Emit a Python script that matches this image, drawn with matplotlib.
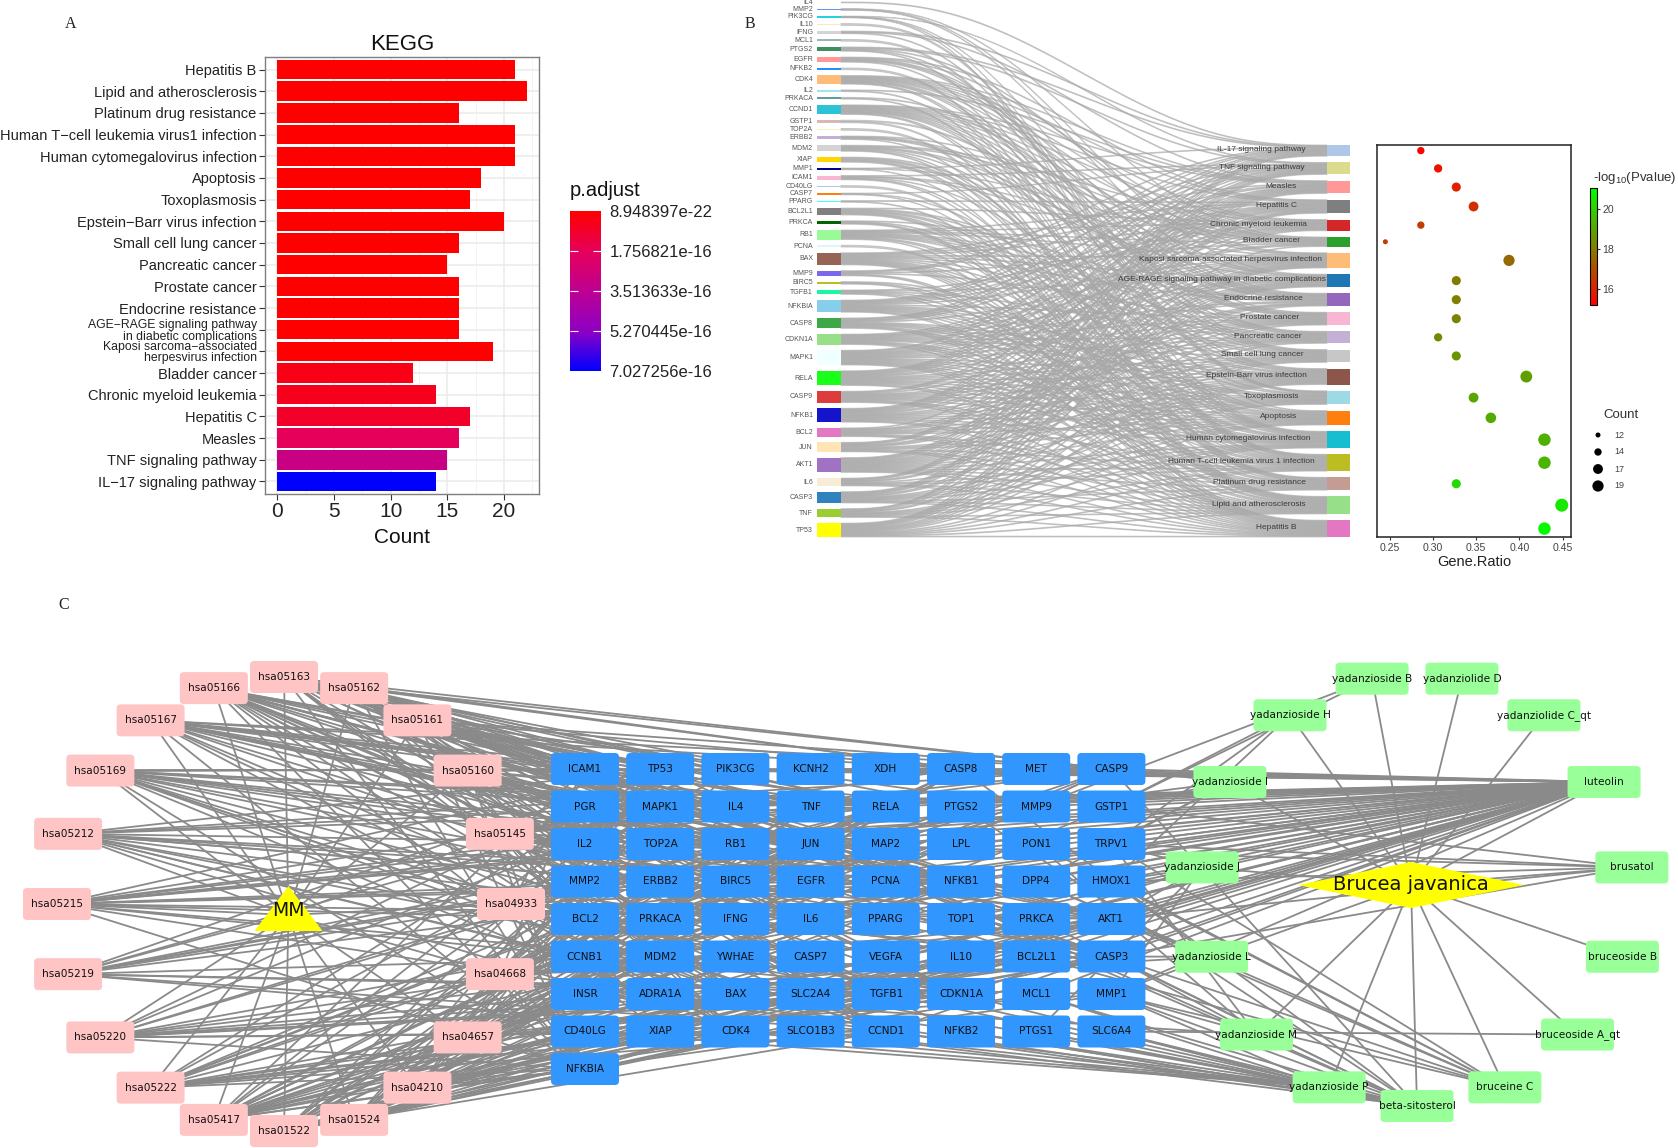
import numpy as np
import matplotlib
matplotlib.use("Agg")
import matplotlib.pyplot as plt
from matplotlib.cm import ScalarMappable
from matplotlib.collections import LineCollection, PolyCollection
from matplotlib.colors import LinearSegmentedColormap, Normalize
from matplotlib.patches import FancyBboxPatch, Polygon, Rectangle

plt.rcParams['font.family'] = ['Liberation Sans', 'DejaVu Sans']
plt.rcParams['mathtext.default'] = 'regular'

# ---- panel A data (top to bottom)
kegg_terms = ['Hepatitis B', 'Lipid and atherosclerosis', 'Platinum drug resistance',
              'Human T\u2212cell leukemia virus1 infection', 'Human cytomegalovirus infection',
              'Apoptosis', 'Toxoplasmosis', 'Epstein\u2212Barr virus infection',
              'Small cell lung cancer', 'Pancreatic cancer', 'Prostate cancer',
              'Endocrine resistance', 'AGE\u2212RAGE signaling pathway\nin diabetic complications',
              'Kaposi sarcoma\u2212associated\nherpesvirus infection', 'Bladder cancer',
              'Chronic myeloid leukemia', 'Hepatitis C', 'Measles',
              'TNF signaling pathway', 'IL\u221217 signaling pathway']
kegg_count = [21, 22, 16, 21, 21, 18, 17, 20, 16, 15, 16, 16, 16, 19, 12, 14, 17, 16, 15, 14]
kegg_padj = [8.9e-22, 2e-21, 5e-21, 8e-21, 1e-20, 3e-20, 6e-20, 1e-19, 3e-19, 6e-19,
             1e-18, 3e-18, 5e-18, 2e-18, 4.5e-17, 5.5e-17, 8.5e-17, 1.75e-16, 3.1e-16, 7.027e-16]
padj_ticks = [8.948397e-22, 1.756821e-16, 3.513633e-16, 5.270445e-16, 7.027256e-16]
padj_labels = ['8.948397e-22', '1.756821e-16', '3.513633e-16', '5.270445e-16', '7.027256e-16']

# ---- panel B data (top to bottom)
sankey_pathways = ['IL-17 signaling pathway', 'TNF signaling pathway', 'Measles', 'Hepatitis C',
                   'Chronic myeloid leukemia', 'Bladder cancer',
                   'Kaposi sarcoma-associated herpesvirus infection',
                   'AGE-RAGE signaling pathway in diabetic complications', 'Endocrine resistance',
                   'Prostate cancer', 'Pancreatic cancer', 'Small cell lung cancer',
                   'Epstein-Barr virus infection', 'Toxoplasmosis', 'Apoptosis',
                   'Human cytomegalovirus infection', 'Human T-cell leukemia virus 1 infection',
                   'Platinum drug resistance', 'Lipid and atherosclerosis', 'Hepatitis B']
sankey_counts = [14, 15, 16, 17, 14, 12, 19, 16, 16, 16, 15, 16, 20, 17, 18, 21, 21, 16, 22, 21]
sankey_colors = ['#AEC7E8', '#DBDB8D', '#FF9896', '#7F7F7F', '#D62728', '#2CA02C', '#FFBB78',
                 '#1F77B4', '#9467BD', '#F7B6D2', '#C5B0D5', '#C7C7C7', '#8C564B', '#9EDAE5',
                 '#FF7F0E', '#17BECF', '#BCBD22', '#C49C94', '#98DF8A', '#E377C2']
hsa_ids = ['hsa04657', 'hsa04668', 'hsa05162', 'hsa05160', 'hsa05220', 'hsa05219', 'hsa05167',
           'hsa04933', 'hsa01522', 'hsa05215', 'hsa05212', 'hsa05222', 'hsa05169', 'hsa05145',
           'hsa04210', 'hsa05163', 'hsa05166', 'hsa01524', 'hsa05417', 'hsa05161']

sankey_genes = ['IL4', 'MMP2', 'PIK3CG', 'IL10', 'IFNG', 'MCL1', 'PTGS2', 'EGFR', 'NFKB2', 'CDK4',
                'IL2', 'PRKACA', 'CCND1', 'GSTP1', 'TOP2A', 'ERBB2', 'MDM2', 'XIAP', 'MMP1', 'ICAM1',
                'CD40LG', 'CASP7', 'PPARG', 'BCL2L1', 'PRKCA', 'RB1', 'PCNA', 'BAX', 'MMP9', 'BIRC5',
                'TGFB1', 'NFKBIA', 'CASP8', 'CDKN1A', 'MAPK1', 'RELA', 'CASP9', 'NFKB1', 'BCL2', 'JUN',
                'AKT1', 'IL6', 'CASP3', 'TNF', 'TP53']
gene_counts = [1, 2, 2, 2, 3, 2, 5, 6, 2, 10, 2, 2, 11, 3, 2, 4, 7, 6, 2, 5, 2, 2, 2, 8, 4, 11, 2,
               14, 6, 3, 5, 14, 12, 12, 17, 17, 13, 16, 10, 11, 17, 9, 13, 10, 16]
gene_colors = ['#FFFFF0', '#6495ED', '#20D5E0', '#EEEEC0', '#D3D3D3', '#9FB6B0', '#3C8F5F', '#FF9896',
               '#1E90FF', '#FFBB78', '#A0E5EE', '#5F9EA0', '#2CC3D6', '#D8B8B5', '#F0F0C8', '#C5B0D5',
               '#D3D3D3', '#FFD700', '#00008B', '#F7B6D2', '#AEC7E8', '#FF7F0E', '#40FFFF', '#7F7F7F',
               '#006400', '#98FB98', '#E0F5FA', '#956455', '#7B68EE', '#BCBD22', '#1CF5A5', '#87CEEB',
               '#3DA845', '#98DF8A', '#F0FFFF', '#19FF19', '#DD3C3C', '#1414CD', '#E377C2', '#FFE4B5',
               '#9F72C4', '#FAEBD7', '#2F82BE', '#9ACD32', '#FFFF00']

# which genes sit in which pathway, same order as sankey_pathways
pathway_genes = [
    'TNF CASP3 IL6 JUN RELA MAPK1 NFKB1 CASP8 NFKBIA PTGS2 MMP9 MMP1 IL4 IFNG',
    'TNF CASP3 IL6 AKT1 JUN NFKB1 RELA MAPK1 CASP8 NFKBIA ICAM1 PTGS2 MMP9 CASP7 PIK3CG',
    'TP53 CASP3 IL6 AKT1 JUN NFKB1 CASP9 RELA CASP8 NFKBIA BAX CCND1 CDK4 IL2 IFNG BCL2',
    'TP53 TNF CASP3 AKT1 NFKB1 CASP9 RELA MAPK1 CDKN1A CASP8 NFKBIA BAX RB1 CCND1 CDK4 EGFR PPARG',
    'TP53 AKT1 BCL2L1 NFKB1 RELA MAPK1 CDKN1A NFKBIA RB1 CCND1 CDK4 MDM2 TGFB1 BAX',
    'TP53 CDKN1A MAPK1 RB1 CCND1 CDK4 MDM2 MMP9 MMP1 MMP2 EGFR ERBB2',
    'TP53 TNF CASP3 IL6 AKT1 JUN NFKB1 CASP9 RELA MAPK1 CDKN1A CASP8 NFKBIA BAX RB1 CCND1 CDK4 ICAM1 PTGS2',
    'TNF CASP3 IL6 AKT1 JUN BCL2 NFKB1 RELA MAPK1 CDKN1A BAX TGFB1 CCND1 CDK4 ICAM1 MMP2',
    'TP53 AKT1 BCL2 MAPK1 CDKN1A BAX RB1 CCND1 CDK4 MDM2 EGFR ERBB2 JUN PRKACA PRKCA MMP2',
    'TP53 AKT1 BCL2 NFKB1 CASP9 RELA MAPK1 CDKN1A NFKBIA RB1 CCND1 MMP9 MDM2 EGFR ERBB2 GSTP1',
    'TP53 AKT1 NFKB1 RELA MAPK1 CDKN1A TGFB1 CASP9 BAX RB1 CCND1 CDK4 BCL2L1 EGFR ERBB2',
    'TP53 AKT1 BCL2 NFKB1 CASP9 RELA CDKN1A CASP3 NFKBIA RB1 CCND1 CDK4 BCL2L1 XIAP PTGS2 PIK3CG',
    'TP53 TNF CASP3 IL6 AKT1 JUN BCL2 NFKB1 CASP9 RELA MAPK1 CDKN1A CASP8 NFKBIA BAX RB1 CCND1 CDK4 ICAM1 MDM2',
    'TNF CASP3 AKT1 JUN BCL2 NFKB1 CASP9 RELA MAPK1 CASP8 NFKBIA TGFB1 BCL2L1 XIAP IL10 IFNG PIK3CG',
    'TP53 TNF CASP3 AKT1 JUN BCL2 NFKB1 CASP9 RELA MAPK1 CASP8 NFKBIA BAX BIRC5 BCL2L1 XIAP CASP7 MCL1',
    'TP53 TNF CASP3 IL6 AKT1 NFKB1 CASP9 RELA MAPK1 CDKN1A CASP8 NFKBIA BAX RB1 CCND1 CDK4 MDM2 PTGS2 EGFR PRKCA PIK3CG',
    'TP53 TNF IL6 AKT1 JUN NFKB1 RELA MAPK1 CDKN1A NFKBIA TGFB1 BAX RB1 ICAM1 CCND1 CDK4 IL2 NFKB2 PRKACA XIAP BCL2L1',
    'TP53 CASP3 AKT1 BCL2 CASP9 MAPK1 CDKN1A CASP8 BAX BCL2L1 XIAP MDM2 GSTP1 TOP2A ERBB2 BIRC5',
    'TP53 TNF CASP3 IL6 AKT1 JUN BCL2 NFKB1 CASP9 RELA MAPK1 CASP8 NFKBIA MMP9 BAX BCL2L1 PPARG CASP7 CD40LG ICAM1 MMP1 PRKCA',
    'TP53 TNF CASP3 IL6 AKT1 JUN BCL2 NFKB1 CASP9 RELA MAPK1 CDKN1A CASP8 NFKBIA TGFB1 BIRC5 MMP9 BAX PCNA RB1 PRKCA',
]

# dot plot
gene_ratio = [0.286, 0.306, 0.327, 0.347, 0.286, 0.245, 0.388, 0.327, 0.327, 0.327,
              0.306, 0.327, 0.408, 0.347, 0.367, 0.429, 0.429, 0.327, 0.449, 0.429]
minus_log_p = [15.3, 15.6, 15.9, 16.3, 16.6, 16.6, 17.6, 18.0, 18.1, 18.2,
               18.3, 18.6, 18.8, 19.0, 19.1, 19.2, 19.3, 20.2, 20.5, 20.9]
legend_counts = [12, 14, 17, 19]

# ---- panel C data
grid_genes = ['ICAM1', 'TP53', 'PIK3CG', 'KCNH2', 'XDH', 'CASP8', 'MET', 'CASP9',
              'PGR', 'MAPK1', 'IL4', 'TNF', 'RELA', 'PTGS2', 'MMP9', 'GSTP1',
              'IL2', 'TOP2A', 'RB1', 'JUN', 'MAP2', 'LPL', 'PON1', 'TRPV1',
              'MMP2', 'ERBB2', 'BIRC5', 'EGFR', 'PCNA', 'NFKB1', 'DPP4', 'HMOX1',
              'BCL2', 'PRKACA', 'IFNG', 'IL6', 'PPARG', 'TOP1', 'PRKCA', 'AKT1',
              'CCNB1', 'MDM2', 'YWHAE', 'CASP7', 'VEGFA', 'IL10', 'BCL2L1', 'CASP3',
              'INSR', 'ADRA1A', 'BAX', 'SLC2A4', 'TGFB1', 'CDKN1A', 'MCL1', 'MMP1',
              'CD40LG', 'XIAP', 'CDK4', 'SLCO1B3', 'CCND1', 'NFKB2', 'PTGS1', 'SLC6A4',
              'NFKBIA']
# going round the ring clockwise from the top
ring_hsa = ['hsa05163', 'hsa05162', 'hsa05161', 'hsa05160', 'hsa05145', 'hsa04933', 'hsa04668',
            'hsa04657', 'hsa04210', 'hsa01524', 'hsa01522', 'hsa05417', 'hsa05222', 'hsa05220',
            'hsa05219', 'hsa05215', 'hsa05212', 'hsa05169', 'hsa05167', 'hsa05166']
# going round the ring clockwise from the bottom
ring_herb = ['beta-sitosterol', 'yadanzioside P', 'yadanzioside M', 'yadanzioside L', 'yadanzioside J',
             'yadanzioside I', 'yadanzioside H', 'yadanzioside B', 'yadanziolide D', 'yadanziolide C_qt',
             'luteolin', 'brusatol', 'bruceoside B', 'bruceoside A_qt', 'bruceine C']
herb_genes = {
    'luteolin': 'AKT1 TP53 TNF IL6 CASP3 CASP9 CASP8 BAX BCL2 JUN RELA NFKB1 NFKBIA MAPK1 MMP9 MMP2 MMP1 PTGS2 '
                'EGFR ERBB2 CCND1 CDK4 CDKN1A RB1 ICAM1 HMOX1 GSTP1 TOP2A TOP1 XIAP BIRC5 MCL1 BCL2L1 MDM2 '
                'PCNA PPARG VEGFA IL2 IL4 IL10 IFNG TGFB1 PRKCA PRKACA CCNB1 CASP7 PIK3CG TRPV1 '
                'KCNH2 XDH MET PGR MAP2 LPL',
    'beta-sitosterol': 'BCL2 CASP3 CASP9 BAX PTGS1 PTGS2 PRKCA JUN TP53 CASP8 TGFB1 ADRA1A SLC6A4 '
                       'MMP1 CCND1 NFKB2 SLCO1B3 MCL1',
    'yadanzioside P': 'SLC2A4 SLCO1B3 CCND1 NFKB2 PTGS1 SLC6A4 CDK4 XIAP CD40LG CDKN1A MMP1 MCL1',
    'yadanzioside M': 'PON1 TRPV1 MMP1 CASP3 INSR',
    'yadanzioside L': 'INSR AKT1 CASP3 HMOX1 DPP4 MMP1',
    'yadanzioside J': 'MMP1 PTGS1 TRPV1 HMOX1 AKT1 PRKCA',
    'yadanzioside I': 'TRPV1 GSTP1 DPP4 MMP9 CASP9',
    'yadanzioside H': 'TRPV1 GSTP1 HMOX1',
    'yadanzioside B': 'GSTP1 MMP9',
    'brusatol': 'GSTP1 HMOX1 TRPV1 AKT1 JUN CASP3',
    'bruceoside A_qt': 'SLC6A4',
    'bruceine C': 'AKT1 CASP3 MMP1 HMOX1 TRPV1 DPP4 PON1 BCL2L1',
}

W, H = 1678, 1148
fig = plt.figure(figsize=(W / 100, H / 100), dpi=100)


def px_axes(x0, y0, x1, y1):
    # axes placed by pixel box of the figure
    return fig.add_axes([x0 / W, 1 - y1 / H, (x1 - x0) / W, (y1 - y0) / H])


# background axes in pixels, holds sankey and network
ax_bg = fig.add_axes([0, 0, 1, 1])
ax_bg.set_xlim(0, W)
ax_bg.set_ylim(H, 0)
ax_bg.axis('off')

for letter, lx, ly in [('A', 71, 24), ('B', 750, 24), ('C', 64, 605)]:
    ax_bg.text(lx, ly, letter, family='Liberation Serif', fontsize=11.5, ha='center', va='center', color='#222222')

# ---- panel A
ax_a = px_axes(265, 57, 539, 494)
padj_cmap = LinearSegmentedColormap.from_list('padj', [(0, '#FF0000'), (0.25, '#E6005A'), (0.5, '#BE0092'),
                                                       (0.75, '#8E00C4'), (1, '#0000FF')])
padj_norm = Normalize(padj_ticks[0], padj_ticks[-1])
y_pos = np.arange(len(kegg_terms))
ax_a.barh(y_pos, kegg_count, height=0.9, color=padj_cmap(padj_norm(kegg_padj)), zorder=3)
ax_a.set_xlim(-1.1, 23.1)
ax_a.set_ylim(19.58, -0.58)
ax_a.set_yticks(y_pos)
ax_a.set_yticklabels(kegg_terms, fontsize=10.5, color='#222222', linespacing=0.95)
for lab in ax_a.get_yticklabels():
    if '\n' in lab.get_text():
        lab.set_fontsize(8.8)
ax_a.set_xticks([0, 5, 10, 15, 20])
ax_a.set_xticks([2.5, 7.5, 12.5, 17.5, 22.5], minor=True)
ax_a.tick_params(axis='x', which='major', labelsize=15, length=4, color='#333333', labelcolor='#222222', pad=2)
ax_a.tick_params(axis='x', which='minor', length=0)
ax_a.tick_params(axis='y', length=4, color='#333333', pad=2)
ax_a.grid(True, which='major', color='#ebebeb', lw=1.1, zorder=0)
ax_a.grid(True, which='minor', axis='x', color='#f2f2f2', lw=0.6, zorder=0)
ax_a.set_axisbelow(True)
for sp in ax_a.spines.values():
    sp.set_color('#7f7f7f')
    sp.set_linewidth(1.0)
ax_a.set_title('KEGG', fontsize=16, pad=5, color='#111111')
ax_a.set_xlabel('Count', fontsize=15, labelpad=5, color='#111111')

cax_a = px_axes(570, 211, 601, 371)
cb_a = fig.colorbar(ScalarMappable(norm=padj_norm, cmap=padj_cmap), cax=cax_a)
cax_a.invert_yaxis()
cb_a.outline.set_visible(False)
cb_a.set_ticks(padj_ticks)
cb_a.set_ticklabels(padj_labels, fontsize=12, color='#222222')
cax_a.tick_params(axis='y', direction='in', color='white', length=6, width=0.8, pad=6, left=True, right=True)
# no white marks on the two ends of the bar
for tk in (cax_a.yaxis.get_major_ticks()[0], cax_a.yaxis.get_major_ticks()[-1]):
    tk.tick1line.set_visible(False)
    tk.tick2line.set_visible(False)
ax_bg.text(570, 191, 'p.adjust', fontsize=14.5, ha='left', va='center', color='#111111')

# ---- panel B sankey
left_x0, left_x1 = 817, 841
right_x0, right_x1 = 1327, 1350
top_left, top_right, bottom = 2, 145, 537


def stack(counts, top, unit):
    # block tops and heights with even gaps down to the bottom
    hs = np.array(counts) * unit
    gap = (bottom - top - hs.sum()) / (len(hs) - 1)
    tops = top + np.concatenate(([0], np.cumsum(hs[:-1] + gap)))
    return tops, hs


gene_tops, gene_hs = stack(gene_counts, top_left, 0.867)
path_tops, path_hs = stack(sankey_counts, top_right, 0.8)
path_mids = path_tops + path_hs / 2

links = []
for pi, names in enumerate(pathway_genes):
    for name in names.split():
        links.append((sankey_genes.index(name), pi))
left_n = [sum(1 for g, p in links if g == i) for i in range(len(sankey_genes))]
right_n = [sum(1 for g, p in links if p == i) for i in range(len(sankey_pathways))]
left_used = [0.0] * len(sankey_genes)
t = np.linspace(0, 1, 50)
ease = 6 * t ** 5 - 15 * t ** 4 + 10 * t ** 3
xs = left_x1 + (right_x0 - left_x1) * t
ribbons = []
# ribbons stacked in order so each block stays tidy
for g, p in sorted(links, key=lambda k: (k[0], k[1])):
    th = gene_hs[g] / left_n[g]
    y0 = gene_tops[g] + left_used[g]
    left_used[g] += th
    link_r = [k for k in sorted(links, key=lambda k: k[0]) if k[1] == p]
    tr = path_hs[p] / right_n[p]
    y1 = path_tops[p] + link_r.index((g, p)) * tr
    upper = y0 + (y1 - y0) * ease
    lower = y0 + th + (y1 + tr - y0 - th) * ease
    ribbons.append(np.column_stack([np.r_[xs, xs[::-1]], np.r_[upper, lower[::-1]]]))
ax_bg.add_collection(PolyCollection(ribbons, facecolor='#a8a8a8', edgecolor='#a8a8a8', linewidths=0.7,
                                    alpha=0.55, zorder=1))

for name, col, ty, hh in zip(sankey_genes, gene_colors, gene_tops, gene_hs):
    ax_bg.add_patch(Rectangle((left_x0, ty), left_x1 - left_x0, hh, color=col, lw=0, zorder=2))
    ax_bg.text(813, ty + hh / 2, name, fontsize=5, ha='right', va='center', color='#555555', zorder=3)

# labels of the right column do not line up, these are their right ends
label_right = [1306, 1305, 1296, 1297, 1307, 1300, 1322, 1326, 1303, 1299, 1302, 1304, 1307,
               1299, 1297, 1311, 1315, 1306, 1306, 1297]
for name, col, ty, hh, lr in zip(sankey_pathways, sankey_colors, path_tops, path_hs, label_right):
    ax_bg.add_patch(Rectangle((right_x0, ty), right_x1 - right_x0, hh, color=col, lw=0, zorder=2))
    ax_bg.text(lr, ty + hh / 2 - 1, name, fontsize=6, ha='right', va='center', color='#3a3a3a', zorder=3)

# ---- dot plot
ax_dot = px_axes(1377, 145, 1571, 537)
pv_cmap = LinearSegmentedColormap.from_list('pv', ['#FF0000', '#00FF00'])
pv_norm = Normalize(15.2, 21.03)
dot_sizes = np.interp(sankey_counts, [12, 22], [13, 88])
ax_dot.scatter(gene_ratio, path_mids, s=dot_sizes, c=minus_log_p, cmap=pv_cmap, norm=pv_norm, lw=0)
ax_dot.set_xlim(0.2353, 0.4597)
ax_dot.set_ylim(bottom, top_right)
ax_dot.set_yticks([])
ax_dot.set_xticks([0.25, 0.30, 0.35, 0.40, 0.45])
ax_dot.set_xticklabels(['0.25', '0.30', '0.35', '0.40', '0.45'])
ax_dot.tick_params(axis='x', labelsize=7.6, length=2.5, color='#333333', labelcolor='#444444', pad=2)
for sp in ax_dot.spines.values():
    sp.set_linewidth(1.1)
    sp.set_color('#222222')
ax_dot.set_xlabel('Gene.Ratio', fontsize=10.5, labelpad=1, color='#222222')

cax_b = px_axes(1590, 188, 1597, 305)
cb_b = fig.colorbar(ScalarMappable(norm=pv_norm, cmap=pv_cmap), cax=cax_b)
cb_b.set_ticks([16, 18, 20])
cb_b.outline.set_linewidth(0.8)
cax_b.tick_params(axis='y', labelsize=7.6, length=2, pad=2, color='#333333', labelcolor='#444444')
ax_bg.text(1593, 178, '-log$_{10}$(Pvalue)', fontsize=9.5, ha='left', va='center', color='#333333')

ax_bg.text(1621, 415, 'Count', fontsize=9.5, ha='center', va='center', color='#333333')
legend_y = 435 + 17 * np.arange(len(legend_counts))
ax_bg.scatter(np.full(len(legend_counts), 1598), legend_y, s=np.interp(legend_counts, [12, 22], [13, 88]),
              color='black', lw=0, zorder=3)
for c, ly in zip(legend_counts, legend_y):
    ax_bg.text(1619, ly, str(c), fontsize=6.5, ha='center', va='center', color='#444444')

# ---- panel C network, cytoscape style rings and grid
pos = {}
for i, name in enumerate(grid_genes):
    pos[name] = (585 + (i % 8) * 75.2, 769 + (i // 8) * 37.5)
for i, name in enumerate(ring_hsa):
    a = np.deg2rad(i * 360 / len(ring_hsa))
    pos[name] = (284 + 227 * np.sin(a), 904 - 227 * np.cos(a))
for i, name in enumerate(ring_herb):
    a = np.deg2rad(i * 360 / len(ring_herb))
    pos[name] = (1417 - 216 * np.sin(a), 890 + 216 * np.cos(a))
mm_xy = (288.5, 915)
bj_xy = (1411, 885)

edges = []
for name in ring_hsa:
    edges.append((pos[name], mm_xy))
for hid, names in zip(hsa_ids, pathway_genes):
    for name in names.split():
        edges.append((pos[hid], pos[name]))
for name in ring_herb:
    edges.append((pos[name], bj_xy))
for herb, names in herb_genes.items():
    for name in names.split():
        edges.append((pos[herb], pos[name]))
ax_bg.add_collection(LineCollection(edges, colors='#8a8a8a', linewidths=1.3, zorder=4))


def node(name, w, color):
    x, y = pos[name]
    ax_bg.add_patch(FancyBboxPatch((x - w / 2 + 3, y - 16 + 3), w - 6, 26,
                                   boxstyle='round,pad=3,rounding_size=4', fc=color, ec='none', zorder=5))
    ax_bg.text(x, y, name, family='DejaVu Sans', fontsize=7.6, ha='center', va='center',
               color='#111111', zorder=6)


for name in ring_hsa:
    node(name, 68, '#FFC4C4')
for name in grid_genes:
    node(name, 68, '#3296FF')
for name in ring_herb:
    node(name, 73, '#99FF99')

ax_bg.add_patch(Polygon([(mm_xy[0] - 34, 931), (mm_xy[0] + 34, 931), (mm_xy[0], 886)], fc='#FFFF00', ec='none', zorder=5))
ax_bg.text(mm_xy[0], 910, 'MM', family='DejaVu Sans', fontsize=13.5, ha='center', va='center', color='#111111', zorder=6)
ax_bg.add_patch(Polygon([(bj_xy[0] - 113, bj_xy[1]), (bj_xy[0], bj_xy[1] - 23), (bj_xy[0] + 113, bj_xy[1]),
                         (bj_xy[0], bj_xy[1] + 23)], fc='#FFFF00', ec='none', zorder=5))
ax_bg.text(bj_xy[0], bj_xy[1], 'Brucea javanica', family='DejaVu Sans', fontsize=14, ha='center', va='center',
           color='#111111', zorder=6)

fig.savefig('out.png', dpi=100)
